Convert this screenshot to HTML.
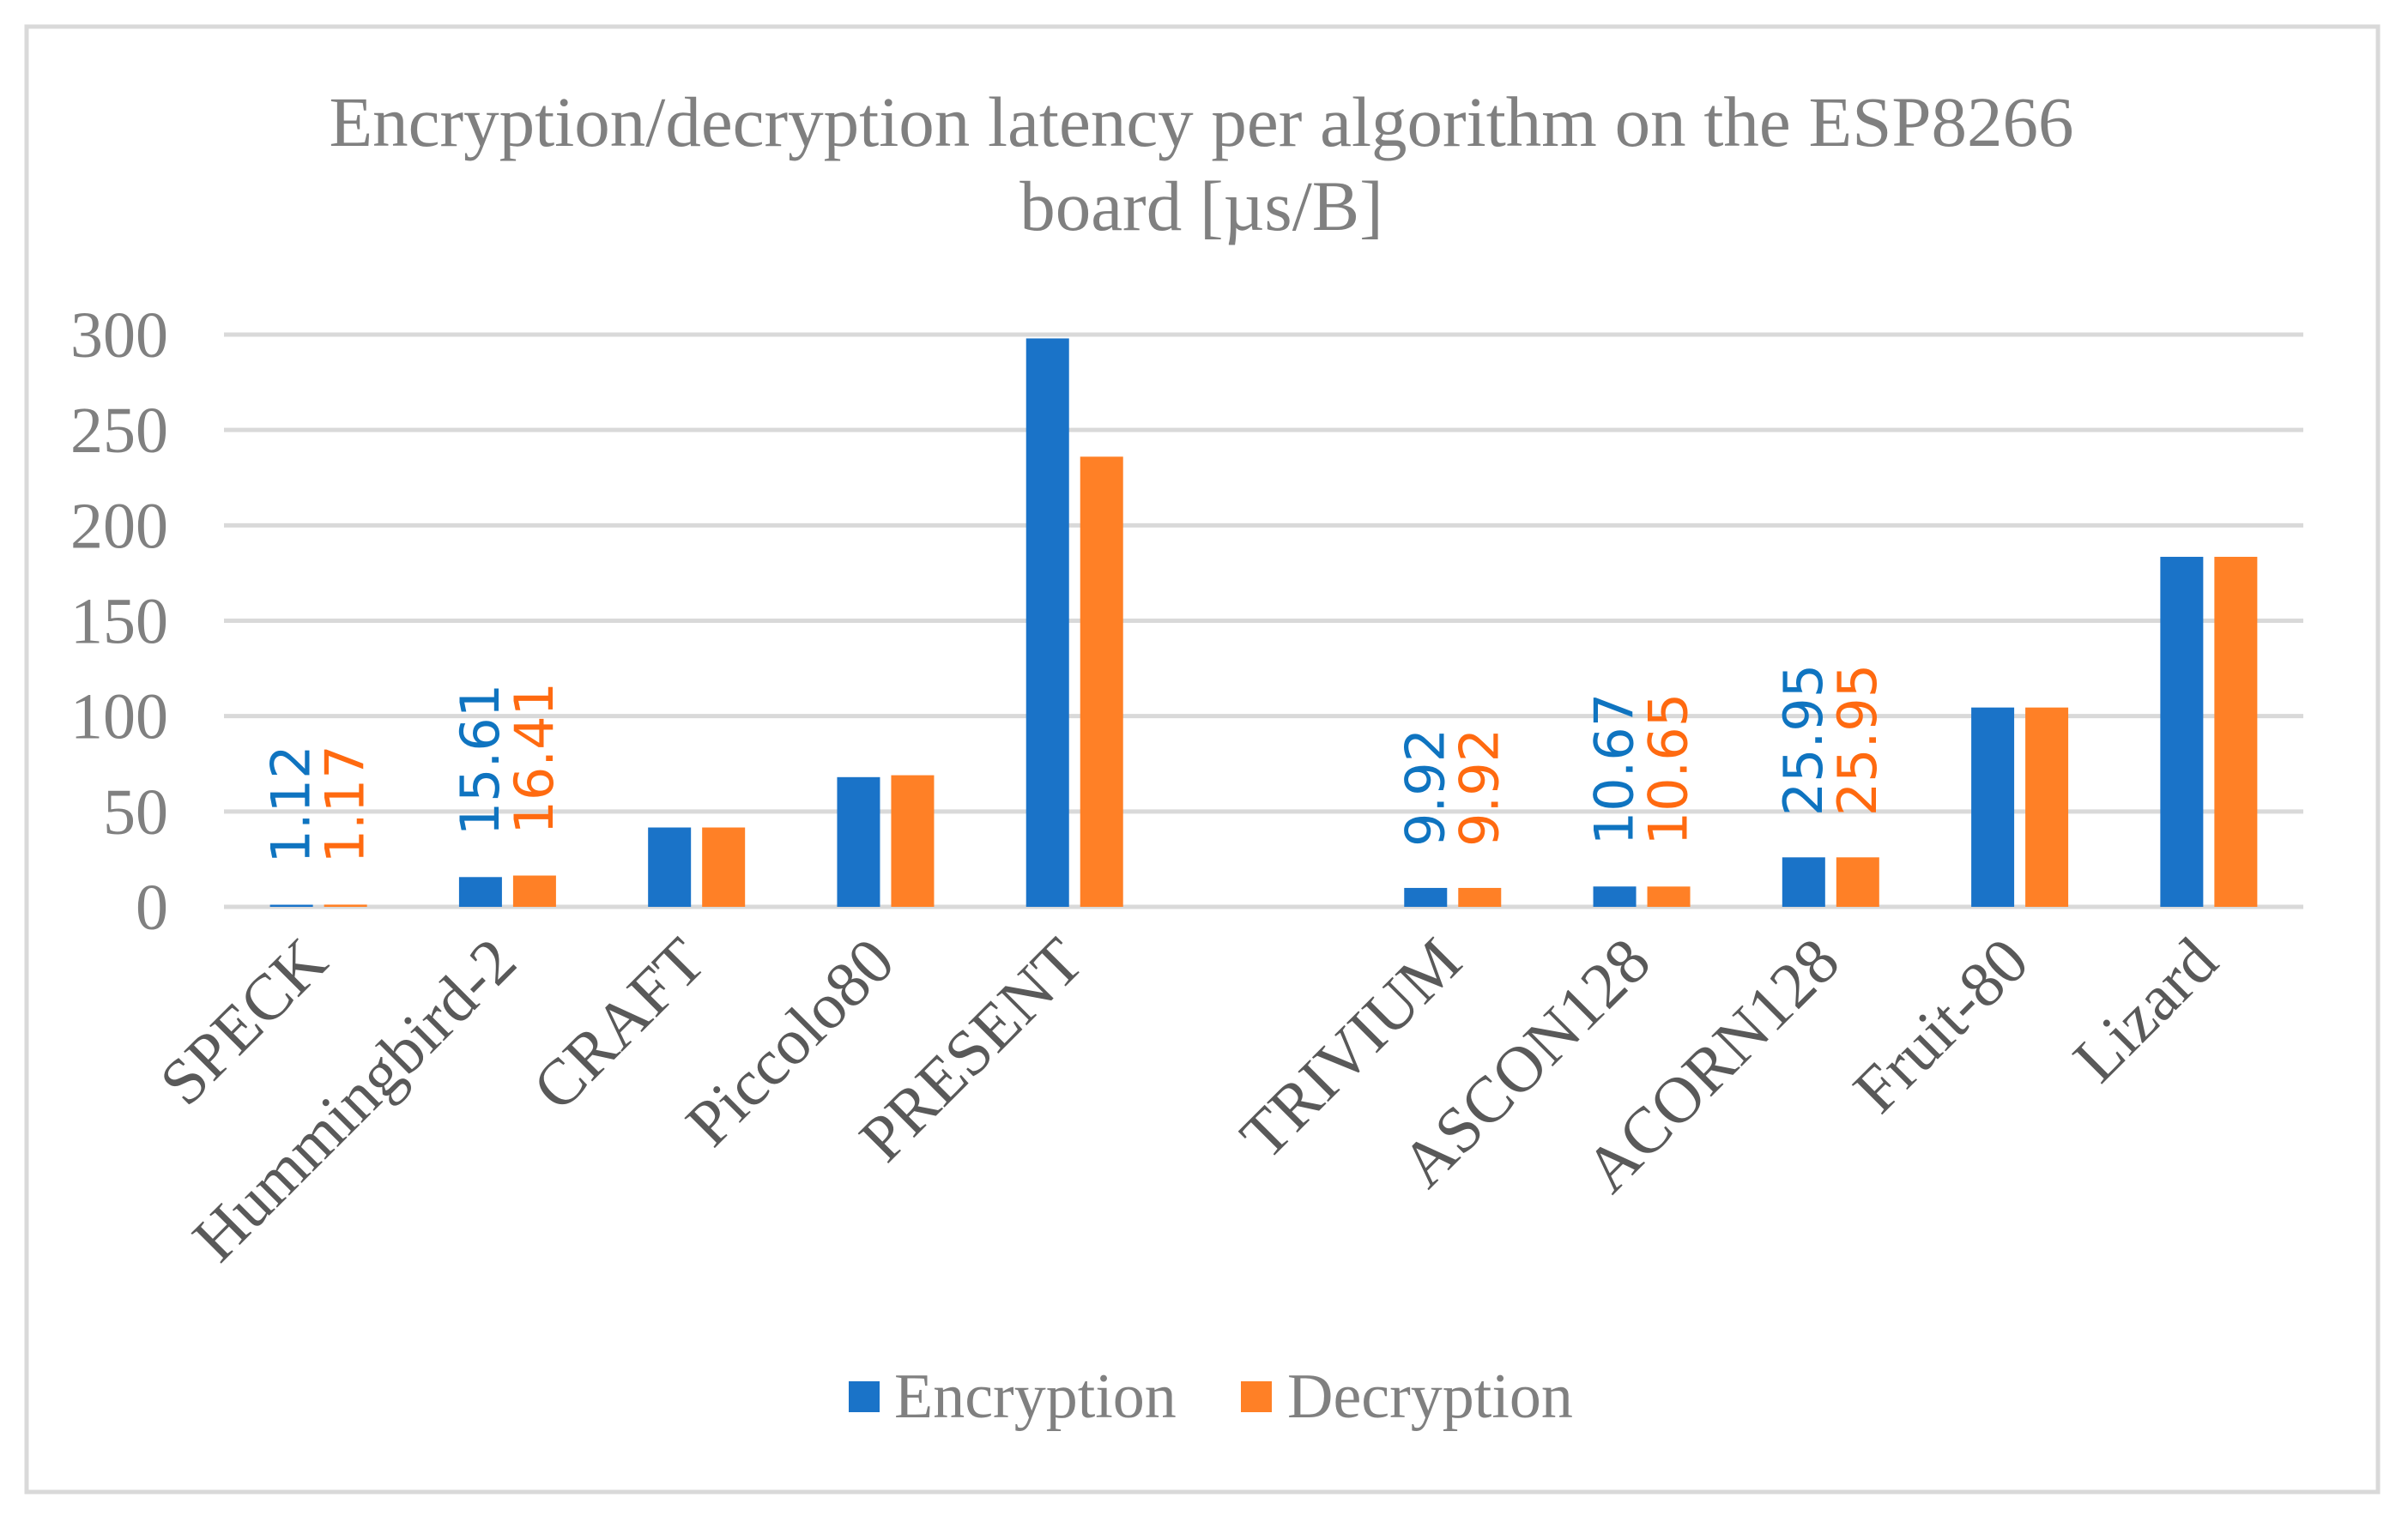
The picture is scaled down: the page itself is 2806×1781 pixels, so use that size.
<!DOCTYPE html>
<html><head><meta charset="utf-8"><style>
html,body{margin:0;padding:0;background:#fff;}
svg{display:block;}
</style></head><body>
<svg id="chart" xmlns="http://www.w3.org/2000/svg" width="2806" height="1781" viewBox="0 0 2806 1781">
<rect x="31" y="31" width="2740" height="1708" fill="#fff" stroke="#d9d9d9" stroke-width="5"/>
<text x="1400" y="170" text-anchor="middle" font-family="Liberation Serif, serif" font-size="83" fill="#808080">Encryption/decryption latency per algorithm on the ESP8266</text>
<text x="1400" y="268" text-anchor="middle" font-family="Liberation Serif, serif" font-size="83" fill="#808080">board [µs/B]</text>
<g id="grid"></g>
<g id="yticks"></g>
<g id="bars"></g>
<g id="labels"></g>
<g id="xlabels"></g>
<g>
<rect x="989" y="1610" width="36" height="36" fill="#1a73c8"/>
<text x="1042" y="1652" font-family="Liberation Serif, serif" font-size="74" fill="#808080">Encryption</text>
<rect x="1446" y="1610" width="36" height="36" fill="#ff8026"/>
<text x="1500" y="1652" font-family="Liberation Serif, serif" font-size="74" fill="#808080">Decryption</text>
</g>
</svg>
<script>
const categories = ["SPECK","Hummingbird-2","CRAFT","Piccolo80","PRESENT","","TRIVIUM","ASCON128","ACORN128","Fruit-80","Lizard"];
const encryption = [1.12,15.61,41.6,68,298,null,9.92,10.67,25.95,104.5,183.5];
const decryption = [1.17,16.41,41.6,69,236,null,9.92,10.65,25.95,104.5,183.5];
const encLabels = ["1.12","15.61",null,null,null,null,"9.92","10.67","25.95",null,null];
const decLabels = ["1.17","16.41",null,null,null,null,"9.92","10.65","25.95",null,null];
const yTicks = [0,50,100,150,200,250,300];

const NS="http://www.w3.org/2000/svg";
const left=261,right=2684,y0=1057,yTop=390,yMax=300;
const band=(right-left)/categories.length;
const y=v=>y0-(v/yMax)*(y0-yTop);
const cx=i=>left+band*(i+0.5);
function mk(tag,attrs,parent){const e=document.createElementNS(NS,tag);for(const k in attrs)e.setAttribute(k,attrs[k]);document.getElementById(parent).appendChild(e);return e;}

yTicks.forEach(t=>{
  const g=mk('line',{x1:left,x2:right,y1:y(t),y2:y(t),stroke:'#d9d9d9','stroke-width':5},'grid');
  
  
  const tx=mk('text',{x:196,y:y(t)+26,'text-anchor':'end','font-family':'Liberation Serif, serif','font-size':76,fill:'#808080'},'yticks');
  tx.textContent=t;
  
  
});

const bw=50,gap=13;
categories.forEach((c,i)=>{
  const c0=cx(i);
  if(encryption[i]!=null){
    const b=mk('rect',{x:c0-gap/2-bw,y:y(encryption[i]),width:bw,height:y0-y(encryption[i]),fill:'#1a73c8'},'bars');
    
    
  }
  if(decryption[i]!=null){
    const b=mk('rect',{x:c0+gap/2,y:y(decryption[i]),width:bw,height:y0-y(decryption[i]),fill:'#ff8026'},'bars');
    
    
  }
  if(encLabels[i]){
    const lx=c0-gap/2-bw/2+21, ly=y(encryption[i])-48;
    const t=mk('text',{x:lx,y:ly,transform:`rotate(-90 ${lx} ${ly})`,'font-family':'DejaVu Sans, sans-serif','font-size':62,fill:'#0f74c0'},'labels');
    t.textContent=encLabels[i];
    
    
  }
  if(decLabels[i]){
    const lx=c0+gap/2+bw/2+21, ly=y(decryption[i])-48;
    const t=mk('text',{x:lx,y:ly,transform:`rotate(-90 ${lx} ${ly})`,'font-family':'DejaVu Sans, sans-serif','font-size':62,fill:'#ff6a10'},'labels');
    t.textContent=decLabels[i];
    
    
  }
  if(c){
    const ax=c0+14, ay=1125;
    const t=mk('text',{x:ax,y:ay,'text-anchor':'end',transform:`rotate(-45 ${ax} ${ay})`,'font-family':'Liberation Serif, serif','font-size':76,fill:'#595959'},'xlabels');
    t.textContent=c;
    
    
  }
});
</script>
</body></html>
